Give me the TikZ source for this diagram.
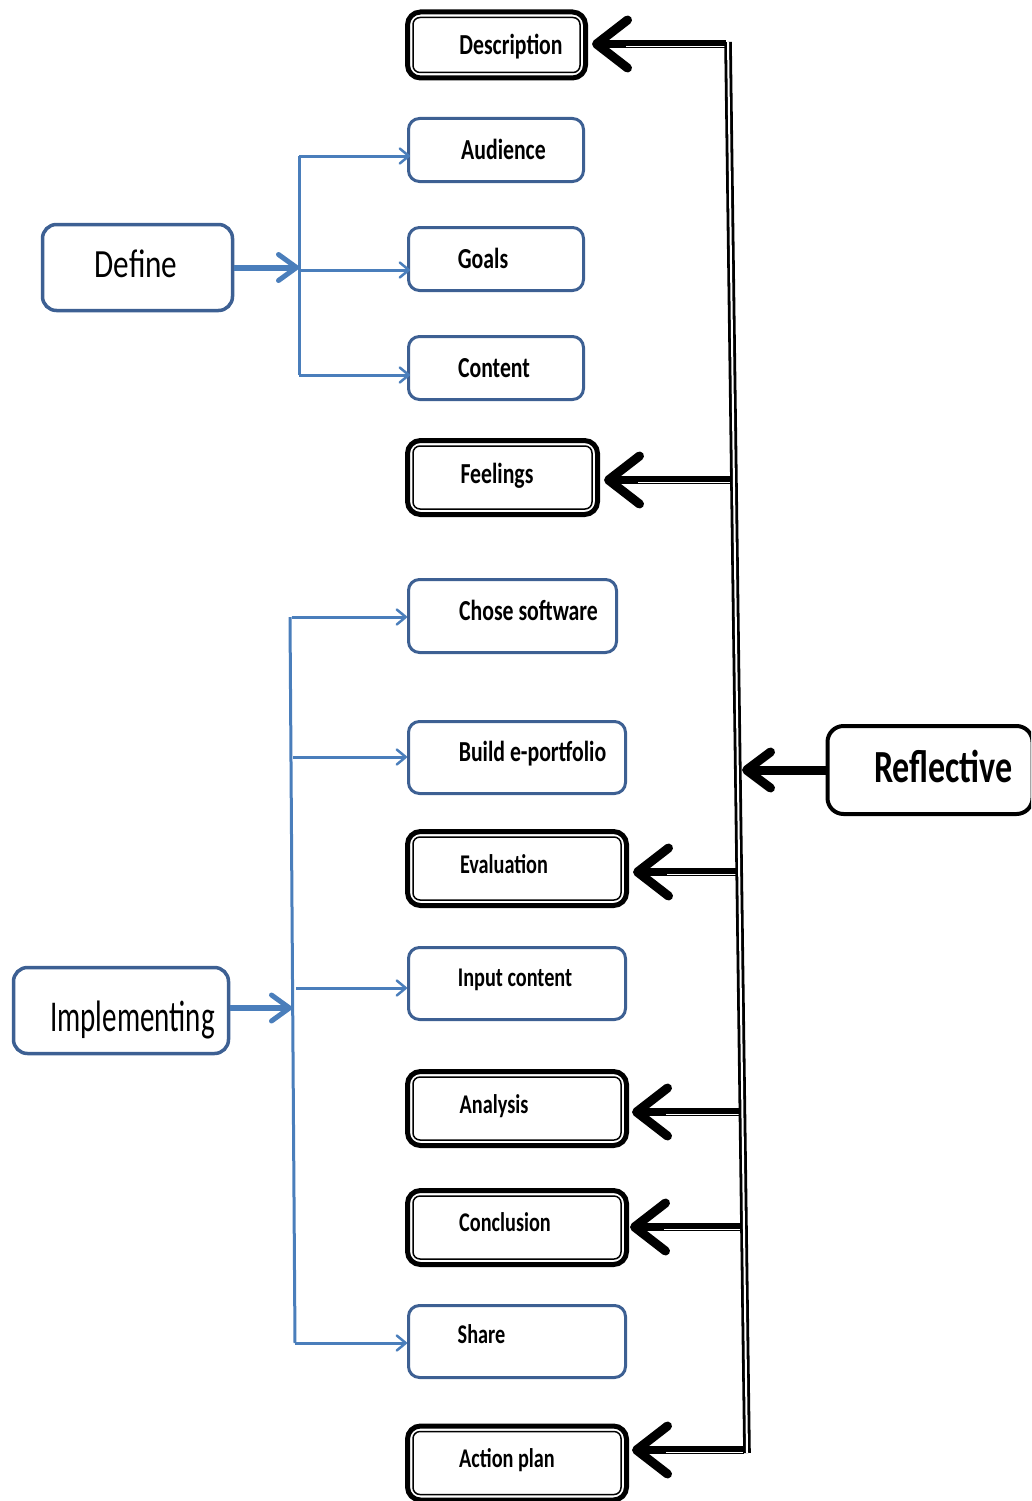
\documentclass[tikz,border=0pt]{standalone}
\usepackage{fontspec}
\setmainfont{Carlito}
\usepackage{graphicx}
\usetikzlibrary{arrows.meta}
\definecolor{boxblue}{HTML}{3D6093}
\definecolor{arrblue}{HTML}{4A7EBB}
\newcommand\sqz[2][0.75]{\scalebox{#1}[1]{#2}}
\begin{document}
\begin{tikzpicture}[x=1pt,y=-1pt,
  bbox/.style={draw=boxblue, line width=3pt, rounded corners=11pt, inner sep=0pt},
  dbox/.style={draw=black, line width=5pt, rounded corners=13pt, inner sep=0pt},
  innerline/.style={draw=black, line width=1.5pt, rounded corners=7pt},
  lbl/.style={inner sep=0pt, text height=18.6pt, text depth=0pt, font=\bfseries\fontsize{29}{31}\selectfont},
  lbls/.style={inner sep=0pt, text height=17.3pt, text depth=0pt, font=\bfseries\fontsize{27}{29}\selectfont},
  biglbl/.style={inner sep=0pt, text height=25.6pt, text depth=0pt, font=\fontsize{40}{44}\selectfont},
  bline/.style={draw=arrblue, line width=3pt},
  barrow/.style={bline, -{Straight Barb[length=9pt,width=15pt,line width=2.5pt,round]}},
  bthick/.style={draw=arrblue, line width=6pt, -{Straight Barb[length=18pt,width=26pt,line width=5pt,round]}},
  kconn/.style={draw=black, line width=8pt, -{Straight Barb[length=31pt,width=48pt,line width=9pt,round]}},
  kgap/.style={draw=white, line width=1.2pt, transform canvas={yshift=-2.2pt}},
  kthick/.style={draw=black, line width=9pt, -{Straight Barb[length=24pt,width=36pt,line width=9pt,round]}},
  vdouble/.style={draw=black, line width=2.8pt, double=white, double distance=2pt}
]
\useasboundingbox (0,0) rectangle (1031,1501);
\clip (0,0) rectangle (1031,1501);

% Black double boxes
\node[dbox, minimum width=178pt, minimum height=66pt, label={[lbl,xshift=14.5pt]center:\sqz{Description}}] (desc) at (496.5,45) {};
\node[dbox, minimum width=190pt, minimum height=74pt, label={[lbl,xshift=-5.5pt,yshift=3.5pt]center:\sqz{Feelings}}] (feel) at (502.5,477.5) {};
\node[dbox, minimum width=219pt, minimum height=74pt, label={[lbls,xshift=-13pt,yshift=3.5pt]center:\sqz{Evaluation}}] (eval) at (517,868.5) {};
\node[dbox, minimum width=219pt, minimum height=74pt, label={[lbls,xshift=-23pt,yshift=3.5pt]center:\sqz{Analysis}}] (anal) at (517,1108.5) {};
\node[dbox, minimum width=219pt, minimum height=74pt, label={[lbls,xshift=-12pt,yshift=4.5pt]center:\sqz{Conclusion}}] (concl) at (517,1227.5) {};
\node[dbox, minimum width=219pt, minimum height=74pt, label={[lbls,xshift=-10pt,yshift=4pt]center:\sqz{Action plan}}] (act) at (517,1463) {};
\foreach \n in {desc,feel,eval,anal,concl,act}
  \draw[innerline] ([xshift=8pt,yshift=-8pt]\n.north west) rectangle ([xshift=-8pt,yshift=8pt]\n.south east);

% Blue boxes
\node[bbox, minimum width=175pt, minimum height=63pt, label={[lbl,xshift=7.5pt]center:\sqz{Audience}}] (aud) at (496,150) {};
\node[bbox, minimum width=175pt, minimum height=63pt, label={[lbl,xshift=-13pt]center:\sqz{Goals}}] (goals) at (496,259) {};
\node[bbox, minimum width=175pt, minimum height=63pt, label={[lbl,xshift=-2pt]center:\sqz{Content}}] (cont) at (496,368) {};
\node[bbox, minimum width=208pt, minimum height=73pt, label={[lbl,xshift=16pt,yshift=5pt]center:\sqz{Chose software}}] (chose) at (512.5,616) {};
\node[bbox, minimum width=217pt, minimum height=72pt, label={[lbl,xshift=15.5pt,yshift=5pt]center:\sqz{Build e-portfolio}}] (build) at (517,757.5) {};
\node[bbox, minimum width=217pt, minimum height=72pt, label={[lbls,xshift=-2pt,yshift=6pt]center:\sqz{Input content}}] (input) at (517,983.5) {};
\node[bbox, minimum width=217pt, minimum height=72pt, label={[lbls,xshift=-35.5pt,yshift=6.5pt]center:\sqz{Share}}] (share) at (517,1341.5) {};

\node[bbox, line width=3.5pt, rounded corners=14pt, minimum width=190pt, minimum height=86pt, label={[biglbl,xshift=-1.5pt,yshift=2.5pt]center:\sqz[0.78]{Define}}] (define) at (137.5,267.5) {};
\node[bbox, line width=3.5pt, rounded corners=14pt, minimum width=215pt, minimum height=86pt, label={[biglbl,text height=28.2pt,font=\fontsize{44}{48}\selectfont,xshift=11.5pt,yshift=-6.5pt]center:\sqz[0.66]{Implementing}}] (impl) at (121,1010.5) {};
\node[dbox, line width=4pt, rounded corners=16pt, minimum width=205pt, minimum height=88pt, label={[lbl,text height=29.4pt,font=\bfseries\fontsize{46}{50}\selectfont,xshift=13.5pt,yshift=2pt]center:\sqz[0.74]{Reflective}}] (refl) at (930,770) {};

% Define connectors
\coordinate (dt) at (299,156);
\coordinate (dg) at (299,270);
\coordinate (db) at (299,375);
\coordinate (dm) at (299,267.5);
\draw[bline] (dt) -- (db);
\draw[barrow] (dt) -- ([xshift=3pt]aud.west |- dt);
\draw[barrow] (dg) -- ([xshift=3pt]goals.west |- dg);
\draw[barrow] (db) -- ([xshift=3pt]cont.west |- db);
\draw[bthick] (define.east) -- (dm);

% Implementing connectors
\coordinate (it) at (290,617);
\coordinate (ib) at (295,1343);
\coordinate (i1) at (292,617);
\coordinate (i2) at (293,757);
\coordinate (i3) at (296,988);
\coordinate (i4) at (295,1343);
\coordinate (ia) at (292,1008);
\draw[bline] (it) -- (ib);
\draw[barrow] (i1) -- (chose.west |- i1);
\draw[barrow] (i2) -- (build.west |- i2);
\draw[barrow] (i3) -- (input.west |- i3);
\draw[barrow] (i4) -- (share.west |- i4);
\draw[bthick] (impl.east |- ia) -- (ia);

% Reflective connectors
\coordinate (rt) at (728,42);
\coordinate (rb) at (747,1453);
\coordinate (r1) at (726,44);
\coordinate (r2) at (731,480);
\coordinate (r3) at (736,872);
\coordinate (r4) at (739,1112);
\coordinate (r5) at (741,1227);
\coordinate (r6) at (744,1450);
\coordinate (ra) at (742,770);
\draw[kconn] (r1) -- ([xshift=4pt]desc.east |- r1);
\draw[kconn] (r2) -- ([xshift=4pt]feel.east |- r2);
\draw[kconn] (r3) -- ([xshift=4pt]eval.east |- r3);
\draw[kconn] (r4) -- ([xshift=3pt]anal.east |- r4);
\draw[kconn] (r5) -- ([xshift=1pt]concl.east |- r5);
\draw[kconn] (r6) -- ([xshift=3pt]act.east |- r6);
\draw[kgap] (r1) -- ([xshift=38pt]desc.east |- r1);
\draw[kgap] (r2) -- ([xshift=38pt]feel.east |- r2);
\draw[kgap] (r3) -- ([xshift=38pt]eval.east |- r3);
\draw[kgap] (r4) -- ([xshift=37pt]anal.east |- r4);
\draw[kgap] (r5) -- ([xshift=35pt]concl.east |- r5);
\draw[kgap] (r6) -- ([xshift=37pt]act.east |- r6);
\draw[vdouble] (rt) -- (rb);
\draw[kthick] (refl.west) -- (ra);
\end{tikzpicture}
\end{document}
